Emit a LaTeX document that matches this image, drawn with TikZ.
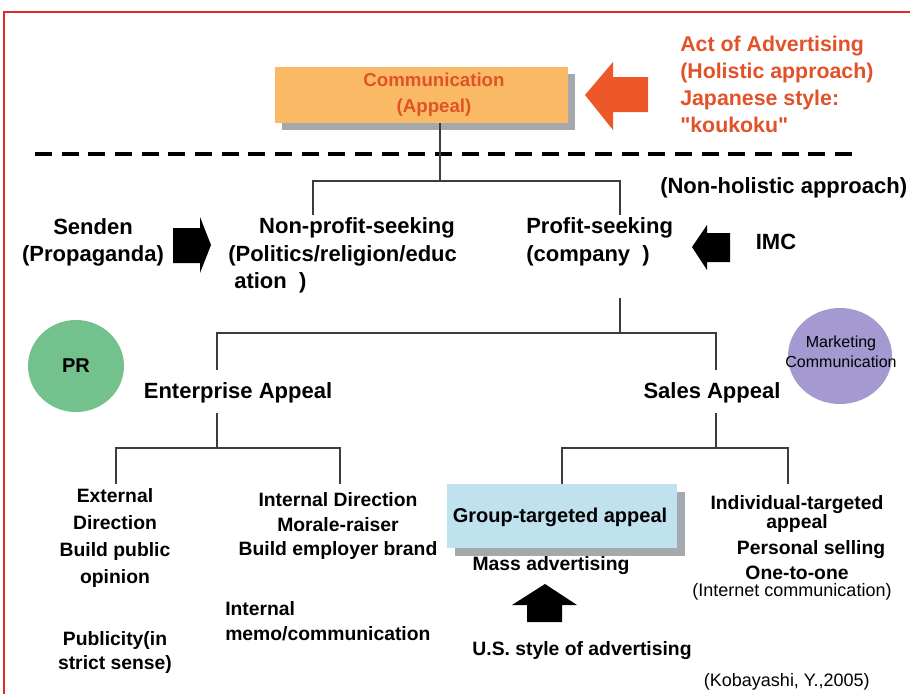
\documentclass[tikz,border=0pt]{standalone}
\usepackage{fontspec}
\usetikzlibrary{shapes.geometric}
\setmainfont{Liberation Sans}
\newfontfamily\rawfont{Liberation Sans}
\definecolor{borderred}{RGB}{224,38,46}
\definecolor{boxorange}{RGB}{250,185,100}
\definecolor{txtorange}{RGB}{226,82,40}
\definecolor{arroworange}{RGB}{236,88,40}
\definecolor{boxblue}{RGB}{192,226,238}
\definecolor{shadowgray}{RGB}{165,168,172}
\definecolor{prgreen}{RGB}{115,193,140}
\definecolor{mcpurple}{RGB}{164,153,208}
\definecolor{linegray}{RGB}{60,60,60}
\tikzset{
  mid/.style={font=\bfseries\fontsize{16.5}{20.25}\selectfont, align=center, inner sep=0pt},
  low/.style={font=\bfseries\fontsize{14.5}{19}\selectfont, align=center, inner sep=0pt},
  orangetxt/.style={font=\bfseries\fontsize{16}{20.25}\selectfont, align=left, inner sep=0pt, text=txtorange},
  plain/.style={font=\fontsize{13.5}{16}\selectfont, align=center, inner sep=0pt},
  conn/.style={draw=linegray, line width=1.2pt},
}
\begin{document}
\begin{tikzpicture}[x=0.75pt,y=-0.75pt]
\useasboundingbox (0,0) rectangle (910,694);
\fill[white] (0,0) rectangle (910,694);
% red frame (top and left visible)
\draw[borderred, line width=2pt] (4,694) -- (4,12) -- (910,12);

% Communication box
\fill[shadowgray] (282,74) rectangle (575,130);
\node[fill=boxorange, minimum width=219.75pt, minimum height=42pt, inner sep=0pt] (comm) at (421.5,95) {};
\node[font=\bfseries\fontsize{14}{19.5}\selectfont, align=center, inner sep=0pt, text=txtorange] (commtxt) at (434,95) {Communication\\(Appeal)};

% orange arrow
\fill[arroworange] (585,95) -- (613,62) -- (613,77) -- (648,77) -- (648,112) -- (613,112) -- (613,130) -- cycle;
\node[orangetxt, anchor=north west] (act) at (680,36) {Act of Advertising\\(Holistic approach)\\Japanese style:\\{\rawfont"koukoku"}};

% dashed line
\draw[black, line width=3pt, dash pattern=on 12.75pt off 7.25pt] (35,154) -- (855,154);

% top tree
\coordinate (j1) at (440,181);
\coordinate (jl) at (313,181);
\coordinate (jr) at (620,181);
\coordinate (dl) at (313,215);
\coordinate (dr) at (620,215);
\draw[conn] (comm.south -| j1) -- (j1);
\draw[conn] (dl) -- (jl) -- (jr) -- (dr);

\node[mid, anchor=west] (nonhol) at (660,188) {(Non-holistic approach)};

\node[mid] (senden) at (93,242) {Senden\\(Propaganda)};
\fill[black] (173,228) -- (200,228) -- (200,217) -- (211,245) -- (200,273) -- (200,263) -- (173,263) -- cycle;

\node[mid] (np1) at (357,228) {Non-profit-seeking};
\node[mid, anchor=west] (np2) at (228,256) {(Politics/religion/educ};
\node[mid, anchor=west] (np3) at (234,283) {ation\ \ )};

\node[mid, anchor=west] (p1) at (526,228) {Profit-seeking};
\node[mid, anchor=west] (p2) at (526,256) {(company\ \ )};

\fill[black] (692,247) -- (707,225) -- (707,233) -- (730,233) -- (730,262) -- (707,262) -- (707,270) -- cycle;
\node[mid] (imc) at (776,242) {IMC};

% second tree
\coordinate (pd1) at (620,298);
\coordinate (pj) at (620,333);
\coordinate (ej) at (217,333);
\coordinate (sj) at (716,333);
\coordinate (ed) at (217,370);
\coordinate (sd) at (716,370);
\draw[conn] (pd1) -- (pj);
\draw[conn] (ed) -- (ej) -- (sj) -- (sd);

\node[ellipse, fill=prgreen, minimum width=72pt, minimum height=69pt, inner sep=0pt, font=\bfseries\fontsize{15}{18}\selectfont] (pr) at (76,366) {PR};
\node[ellipse, fill=mcpurple, minimum width=78pt, minimum height=72pt, inner sep=0pt] (mcc) at (840,356) {};
\node[plain, font=\fontsize{12}{15}\selectfont] (mc) at (841,352) {Marketing\\Communication};

\node[mid] (ent) at (238,393) {Enterprise Appeal};
\node[mid] (sales) at (712,393) {Sales Appeal};

% third tree left
\coordinate (eu) at (217,413);
\coordinate (ej2) at (217,448);
\coordinate (ejl) at (116,448);
\coordinate (ejr) at (340,448);
\coordinate (edl) at (116,484);
\coordinate (edr) at (340,484);
\draw[conn] (eu) -- (ej2);
\draw[conn] (edl) -- (ejl) -- (ejr) -- (edr);

% third tree right
\coordinate (su) at (716,413);
\coordinate (sj2) at (716,448);
\coordinate (sjl) at (562,448);
\coordinate (sjr) at (788,448);
\coordinate (sdr) at (788,484);
\draw[conn] (su) -- (sj2);

% blue box
\fill[shadowgray] (455,492) rectangle (685,556);
\node[fill=boxblue, minimum width=172.5pt, minimum height=48pt, inner sep=0pt] (grp) at (562,516) {};
\node[low, font=\bfseries\fontsize{15}{18}\selectfont] (grptxt) at (560,517) {Group-targeted appeal};
\draw[conn] (grp.north) -- (sjl) -- (sjr) -- (sdr);

% bottom texts
\node[low, font=\bfseries\fontsize{14.5}{20.25}\selectfont] (ext) at (115,538) {External\\Direction\\Build public\\opinion};
\node[low, font=\bfseries\fontsize{14.5}{18.5}\selectfont] (intd) at (338,526) {Internal Direction\\Morale-raiser\\Build employer brand};
\node[low, align=left, anchor=west, font=\bfseries\fontsize{14.5}{18.75}\selectfont] (memo) at (225,621) {Internal\\memo/communication};
\node[low, font=\bfseries\fontsize{14.5}{18}\selectfont] (pub) at (115,652) {Publicity(in\\strict sense)};

\node[low] (mass) at (551,566) {Mass advertising};
\fill[black] (545,584) -- (577,605) -- (562,605) -- (562,622) -- (527,622) -- (527,605) -- (512,605) -- cycle;
\node[low] (us) at (582,651) {U.S. style of advertising};

\node[low, font=\bfseries\fontsize{14.5}{14}\selectfont] (ind) at (797,514) {Individual-targeted\\appeal};
\node[low] (pers) at (811,550) {Personal selling};
\node[low] (one) at (797,573) {One-to-one};
\node[plain] (inet) at (792,592) {(Internet communication)};

\node[plain, anchor=east] (kob) at (870,682) {(Kobayashi, Y.,2005)};
\end{tikzpicture}
\end{document}
